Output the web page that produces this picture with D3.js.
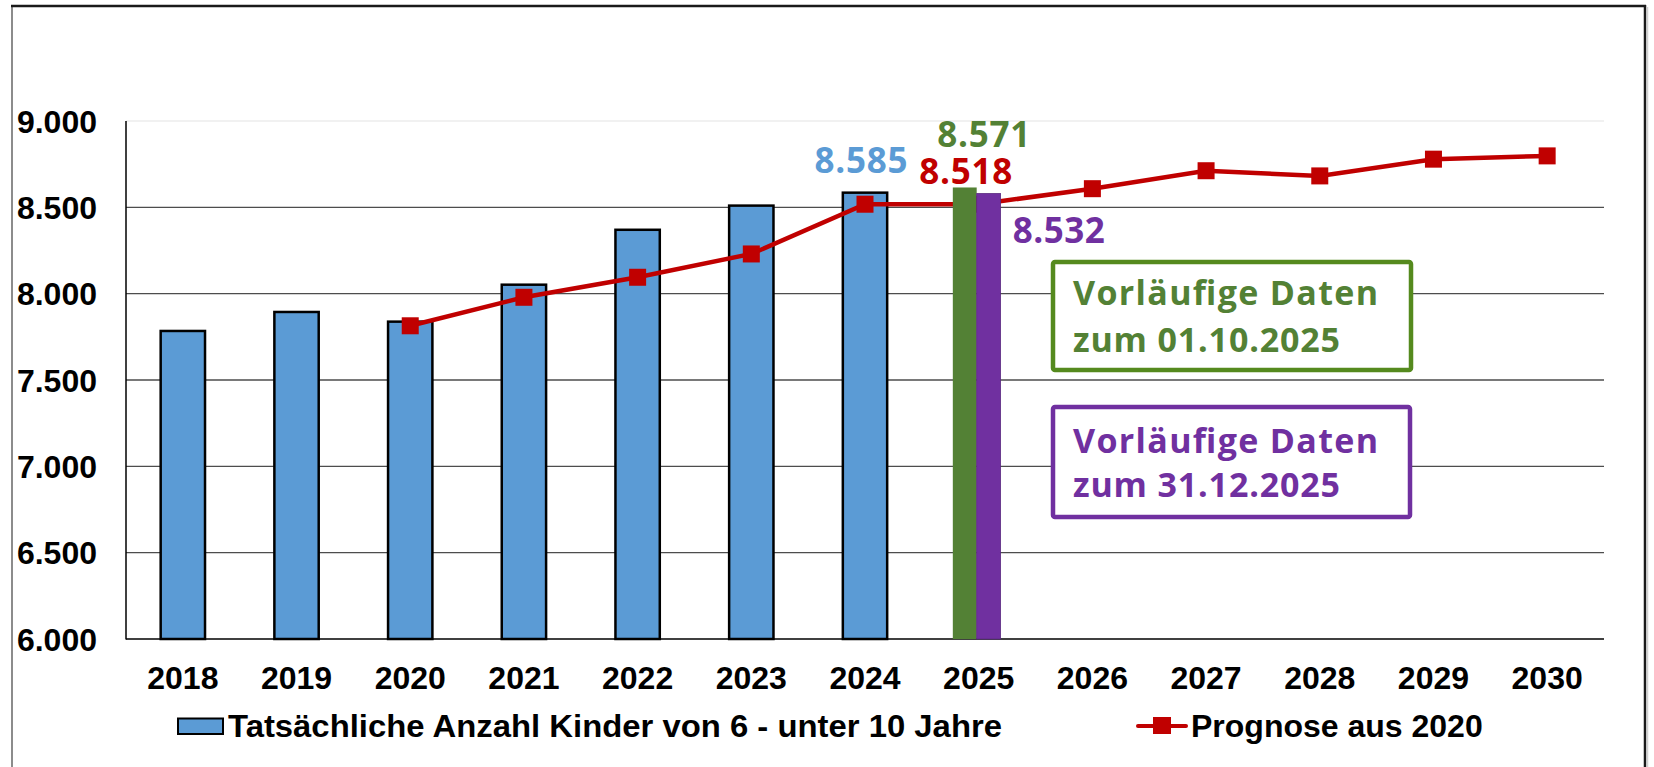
<!DOCTYPE html>
<html>
<head>
<meta charset="UTF-8"/>
<title>Kinder von 6 - unter 10 Jahre</title>
<script src="https://cdn.jsdelivr.net/npm/d3@7"></script>
<style>
  html, body { margin: 0; padding: 0; background: #fff; }
  svg { display: block; }
  .tick-label { font-family: 'Liberation Sans', Arial, sans-serif; font-weight: bold; font-size: 32px; fill: #000; }
  .val { font-family: 'Open Sans', sans-serif; font-weight: 700; font-size: 35px; }
  .note { font-family: 'Open Sans', sans-serif; font-weight: 700; font-size: 34px; }
</style>
</head>
<body>
<svg width="1654" height="767"></svg>
<script>
// data
const years = [2018, 2019, 2020, 2021, 2022, 2023, 2024, 2025, 2026, 2027, 2028, 2029, 2030];
const actual = [7784, 7894, 7838, 8052, 8370, 8510, 8585];          // 2018 - 2024
const prognose = [null, null, 7814, 7979, 8095, 8230, 8518, 8518, 8608, 8712, 8682, 8779, 8798];
const prelimOct = 8615;   // green bar 2025 (as drawn)
const prelimDec = 8580;   // purple bar 2025 (as drawn)
const valueLabels = ['8.585', '8.571', '8.518', '8.532'];
const yTicks = [6000, 6500, 7000, 7500, 8000, 8500, 9000];
const legendLabels = ['Tatsächliche Anzahl Kinder von 6 - unter 10 Jahre', 'Prognose aus 2020'];
const noteOct = ['Vorläufige Daten', 'zum 01.10.2025'];
const noteDec = ['Vorläufige Daten', 'zum 31.12.2025'];

const blue = '#5B9BD5', red = '#C00000', green = '#538135', purple = '#7030A0';

const svg = d3.select('svg');
const pL = 126, pR = 1604, pT = 121, pB = 639;

const x = d3.scalePoint().domain(years).range([pL, pR]).padding(0.5);
const y = d3.scaleLinear().domain([6000, 9000]).range([pB, pT]);
const bw = x.step() * 0.39;

// outer frame
svg.append('line').attr('x1', 12).attr('x2', 12).attr('y1', 5).attr('y2', 767)
  .attr('stroke', '#8c8c8c').attr('stroke-width', 2);
svg.append('line').attr('x1', 11).attr('x2', 1646).attr('y1', 6).attr('y2', 6)
  .attr('stroke', '#1a1a1a').attr('stroke-width', 2.5);
svg.append('line').attr('x1', 1645).attr('x2', 1645).attr('y1', 5).attr('y2', 767)
  .attr('stroke', '#1a1a1a').attr('stroke-width', 2.5);
svg.append('line').attr('x1', 1647.5).attr('x2', 1647.5).attr('y1', 7).attr('y2', 767)
  .attr('stroke', '#d0d0d0').attr('stroke-width', 1.5);

// gridlines
svg.append('g')
  .selectAll('line')
  .data(yTicks.filter(t => t > 6000))
  .join('line')
  .attr('x1', pL).attr('x2', pR)
  .attr('y1', d => y(d)).attr('y2', d => y(d))
  .attr('stroke', d => d === 9000 ? '#ececec' : '#4d4d4d')
  .attr('stroke-width', 1.3);

// y labels
svg.append('g')
  .selectAll('text')
  .data(yTicks)
  .join('text')
  .attr('class', 'tick-label')
  .attr('x', 97)
  .attr('y', d => y(d) + 11.5)
  .attr('text-anchor', 'end')
  .text(d => d3.format(',')(d).replace(',', '.'));

// x labels
svg.append('g')
  .selectAll('text')
  .data(years)
  .join('text')
  .attr('class', 'tick-label')
  .attr('x', d => x(d))
  .attr('y', 689)
  .attr('text-anchor', 'middle')
  .text(d => d);

// blue bars
svg.append('g')
  .selectAll('rect')
  .data(actual)
  .join('rect')
  .attr('x', (d, i) => x(years[i]) - bw / 2)
  .attr('y', d => y(d))
  .attr('width', bw)
  .attr('height', d => pB - y(d))
  .attr('fill', blue)
  .attr('stroke', '#000')
  .attr('stroke-width', 2.5);

// axes
svg.append('line').attr('x1', pL).attr('x2', pL).attr('y1', pT).attr('y2', pB + 0.6)
  .attr('stroke', '#000').attr('stroke-width', 1.5);
svg.append('line').attr('x1', pL).attr('x2', pR).attr('y1', pB).attr('y2', pB)
  .attr('stroke', '#000').attr('stroke-width', 1.5);

// forecast line
const progPts = years.map((yr, i) => ({ yr, v: prognose[i] })).filter(p => p.v !== null);
svg.append('path')
  .datum(progPts)
  .attr('fill', 'none')
  .attr('stroke', red)
  .attr('stroke-width', 4.5)
  .attr('d', d3.line().x(p => x(p.yr)).y(p => y(p.v)));
svg.append('g')
  .selectAll('rect')
  .data(progPts)
  .join('rect')
  .attr('x', p => x(p.yr) - 8.5)
  .attr('y', p => y(p.v) - 8.5)
  .attr('width', 17)
  .attr('height', 17)
  .attr('fill', red);

// 2025 preliminary bars
const c25 = x(2025);
const half = x.step() * 0.21;
svg.append('rect')
  .attr('x', c25 - half - 2).attr('y', y(prelimOct))
  .attr('width', half).attr('height', pB - y(prelimOct))
  .attr('fill', green);
svg.append('rect')
  .attr('x', c25 - 2).attr('y', y(prelimDec))
  .attr('width', half).attr('height', pB - y(prelimDec))
  .attr('fill', purple)
  .attr('stroke', '#5a2a80').attr('stroke-width', 0.8);

// value labels
const vl = svg.append('g').attr('class', 'val').attr('text-anchor', 'middle');
vl.append('text').attr('x', x(2024) - 4).attr('y', y(actual[6]) - 20)
  .attr('fill', blue).attr('textLength', 93).text(valueLabels[0]);
vl.append('text').attr('x', c25 + 5).attr('y', y(prelimOct) - 40)
  .attr('fill', green).attr('textLength', 93).text(valueLabels[1]);
vl.append('text').attr('x', c25 - 13).attr('y', y(prognose[7]) - 20)
  .attr('fill', red).attr('textLength', 93).text(valueLabels[2]);
vl.append('text').attr('x', c25 + 80).attr('y', y(prelimDec) + 49)
  .attr('fill', purple).attr('textLength', 92).text(valueLabels[3]);

// annotation boxes
function note(lines, color, boxColor, bx, by, bwid, bh, base1, base2, lens) {
  const g = svg.append('g');
  g.append('rect').attr('x', bx).attr('y', by).attr('width', bwid).attr('height', bh)
    .attr('rx', 2).attr('fill', '#fff').attr('stroke', boxColor).attr('stroke-width', 4.5);
  g.append('text').attr('class', 'note').attr('x', bx + 20).attr('y', base1)
    .attr('fill', color).attr('textLength', lens[0]).text(lines[0]);
  g.append('text').attr('class', 'note').attr('x', bx + 20).attr('y', base2)
    .attr('fill', color).attr('textLength', lens[1]).text(lines[1]);
}
note(noteOct, green, '#558a1e', 1053, 262, 358, 108, 305, 352, [305, 267]);
note(noteDec, purple, purple, 1053, 407, 357, 110, 453, 497, [305, 267]);

// legend
svg.append('rect').attr('x', 178).attr('y', 718.5).attr('width', 45).attr('height', 15.5)
  .attr('fill', blue).attr('stroke', '#000').attr('stroke-width', 2);
svg.append('text').attr('class', 'tick-label').attr('x', 228).attr('y', 737)
  .attr('textLength', 774).attr('lengthAdjust', 'spacingAndGlyphs').text(legendLabels[0]);
svg.append('line').attr('x1', 1138).attr('x2', 1186).attr('y1', 726).attr('y2', 726)
  .attr('stroke', red).attr('stroke-width', 4).attr('stroke-linecap', 'round');
svg.append('rect').attr('x', 1153).attr('y', 717).attr('width', 18).attr('height', 17).attr('fill', red);
svg.append('text').attr('class', 'tick-label').attr('x', 1191).attr('y', 737)
  .text(legendLabels[1]);
</script>
</body>
</html>
